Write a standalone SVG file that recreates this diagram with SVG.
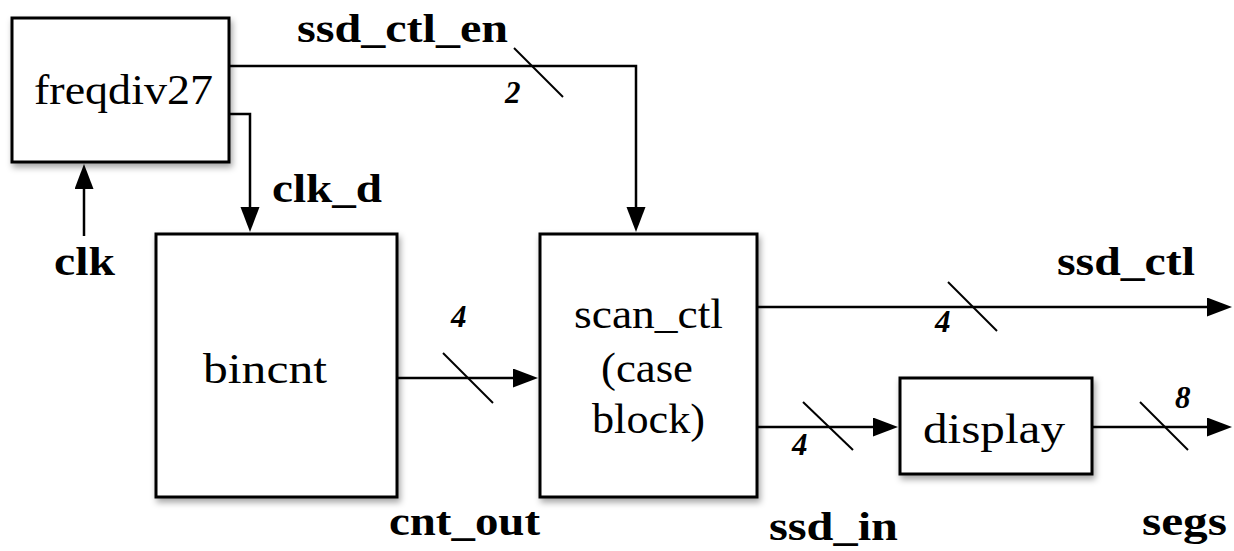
<svg xmlns="http://www.w3.org/2000/svg" width="1234" height="551" viewBox="0 0 1234 551">
<defs>
<filter id="sh" x="-10%" y="-10%" width="125%" height="130%">
<feDropShadow dx="2" dy="4" stdDeviation="3" flood-color="#000" flood-opacity="0.35"/>
</filter>
<marker id="ah" markerUnits="userSpaceOnUse" markerWidth="26" markerHeight="20" refX="2" refY="9.5" orient="auto">
<path d="M0,0 L25,9.5 L0,19 Z" fill="#000"/>
</marker>
<style>
.box{fill:#fff;stroke:#000;stroke-width:3;filter:url(#sh)}
.nt{font-family:"Liberation Serif","Times New Roman",serif;font-size:43px;fill:#000}
.lb{font-family:"Liberation Serif","Times New Roman",serif;font-size:40px;font-weight:bold;fill:#000}
.num{font-family:"Liberation Serif","Times New Roman",serif;font-size:31px;font-weight:bold;font-style:italic;fill:#000}
.wire{fill:none;stroke:#000;stroke-width:2.5}
.arr{marker-end:url(#ah)}
.slash{stroke:#000;stroke-width:2}
</style>
</defs>
<rect width="1234" height="551" fill="#fff"/>
<g id="freqdiv27">
<rect class="box" x="12" y="18" width="217" height="144"/>
<text class="nt" x="34" y="104" textLength="179" lengthAdjust="spacingAndGlyphs">freqdiv27</text>
</g>
<g id="bincnt">
<rect class="box" x="156" y="234" width="241" height="263"/>
<text class="nt" x="203" y="383" textLength="124" lengthAdjust="spacingAndGlyphs">bincnt</text>
</g>
<g id="scan_ctl">
<rect class="box" x="540" y="234" width="217" height="263"/>
<text class="nt" x="574" y="328" textLength="149" lengthAdjust="spacingAndGlyphs">scan_ctl</text>
<text class="nt" x="601" y="382" textLength="92" lengthAdjust="spacingAndGlyphs">(case</text>
<text class="nt" x="592" y="433" textLength="113" lengthAdjust="spacingAndGlyphs">block)</text>
</g>
<g id="display">
<rect class="box" x="900" y="378" width="192" height="96"/>
<text class="nt" x="923" y="443" textLength="142" lengthAdjust="spacingAndGlyphs">display</text>
</g>
<g id="connectors">
<path class="wire arr" d="M84,236 V187"/>
<path class="wire arr" d="M229,114 H250 V209"/>
<path class="wire arr" d="M229,66 H636 V209"/>
<path class="wire arr" d="M397,378 H515"/>
<path class="wire arr" d="M757,307 H1209"/>
<path class="wire arr" d="M757,427 H875"/>
<path class="wire arr" d="M1092,427 H1209"/>
<line class="slash" x1="514" y1="48" x2="563" y2="97"/>
<line class="slash" x1="443" y1="353" x2="493" y2="403"/>
<line class="slash" x1="948" y1="282" x2="997" y2="331"/>
<line class="slash" x1="803" y1="402" x2="853" y2="450"/>
<line class="slash" x1="1140" y1="402" x2="1188" y2="450"/>
</g>
<g id="labels">
<text class="lb" x="297" y="42" textLength="211" lengthAdjust="spacingAndGlyphs">ssd_ctl_en</text>
<text class="lb" x="272" y="202" textLength="110" lengthAdjust="spacingAndGlyphs">clk_d</text>
<text class="lb" x="54" y="275" textLength="61" lengthAdjust="spacingAndGlyphs">clk</text>
<text class="lb" x="389" y="535" textLength="151" lengthAdjust="spacingAndGlyphs">cnt_out</text>
<text class="lb" x="1057" y="275" textLength="138" lengthAdjust="spacingAndGlyphs">ssd_ctl</text>
<text class="lb" x="769" y="540" textLength="129" lengthAdjust="spacingAndGlyphs">ssd_in</text>
<text class="lb" x="1142" y="535" textLength="85" lengthAdjust="spacingAndGlyphs">segs</text>
<text class="num" x="505" y="103">2</text>
<text class="num" x="451" y="327">4</text>
<text class="num" x="935" y="332">4</text>
<text class="num" x="792" y="455">4</text>
<text class="num" x="1175" y="408">8</text>
</g>
</svg>
